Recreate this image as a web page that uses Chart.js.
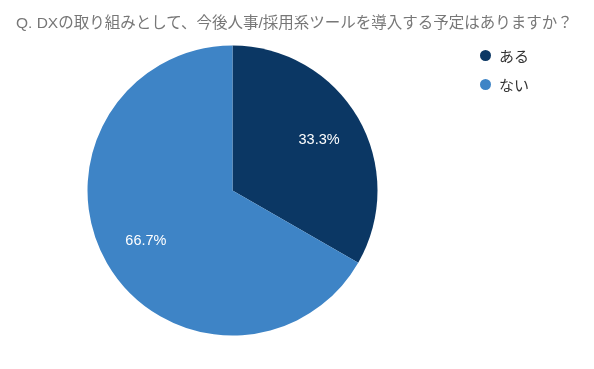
<!DOCTYPE html>
<html lang="ja">
<head>
<meta charset="utf-8">
<script src="https://cdn.jsdelivr.net/npm/chart.js@4.4.1/dist/chart.umd.min.js"></script>
<style>
  html, body { margin: 0; padding: 0; background: #fff; }
  .wrap { position: relative; width: 594px; height: 369px; }
  #title { position: absolute; left: 16px; top: 14px; margin: 0; white-space: nowrap;
    font: 15.5px/18px 'Liberation Sans', 'Noto Sans CJK JP', sans-serif; color: #777; }
  #legend { position: absolute; left: 480px; top: 45px; margin: 0; padding: 0; list-style: none;
    font: 15px 'Liberation Sans', 'Noto Sans CJK JP', sans-serif; color: #333; }
  #legend li { display: flex; align-items: center; height: 20px; margin-bottom: 9px; }
  #legend .dot { display: inline-block; width: 11px; height: 11px; border-radius: 50%; margin-right: 8px; }
</style>
</head>
<body>
<div class="wrap">
  <canvas id="chart" width="594" height="369"></canvas>
  <div id="title"></div>
  <ul id="legend"></ul>
</div>
<script>
const titleText = 'Q. DXの取り組みとして、今後人事/採用系ツールを導入する予定はありますか？';
const labels = ['ある', 'ない'];
const values = [33.3, 66.7];
const colors = ['#0b3764', '#3e84c6'];

// percentage text inside each slice
const sliceLabels = {
  id: 'sliceLabels',
  afterDatasetsDraw(chart) {
    const ctx = chart.ctx;
    const meta = chart.getDatasetMeta(0);
    ctx.save();
    ctx.fillStyle = '#fff';
    ctx.font = '14.5px "Liberation Sans", Arial, sans-serif';
    ctx.textAlign = 'center';
    ctx.textBaseline = 'middle';
    meta.data.forEach((arc, i) => {
      const { x, y, startAngle, endAngle, outerRadius } = arc.getProps(['x', 'y', 'startAngle', 'endAngle', 'outerRadius'], true);
      const mid = (startAngle + endAngle) / 2;
      const r = outerRadius * 0.69;
      ctx.fillText(values[i].toFixed(1) + '%', x + Math.cos(mid) * r, y + Math.sin(mid) * r);
    });
    ctx.restore();
  }
};

const chart = new Chart(document.getElementById('chart'), {
  type: 'pie',
  data: {
    labels: labels,
    datasets: [{
      data: values,
      backgroundColor: colors,
      borderWidth: 0,
    }],
  },
  options: {
    responsive: false,
    animation: false,
    layout: {
      // pie sits in 87..378 x 45.5..335.5
      padding: { left: 16, right: 145, top: 45.5, bottom: 33.5 },
    },
    plugins: {
      title: { display: false },
      legend: { display: false },
      tooltip: { enabled: false },
    },
  },
  plugins: [sliceLabels],
});

document.getElementById('title').textContent = titleText;

// html legend built from the same arrays
const legendEl = document.getElementById('legend');
labels.forEach((label, i) => {
  const li = document.createElement('li');
  const dot = document.createElement('span');
  dot.className = 'dot';
  dot.style.background = colors[i];
  li.appendChild(dot);
  li.appendChild(document.createTextNode(label));
  legendEl.appendChild(li);
});
</script>
</body>
</html>
